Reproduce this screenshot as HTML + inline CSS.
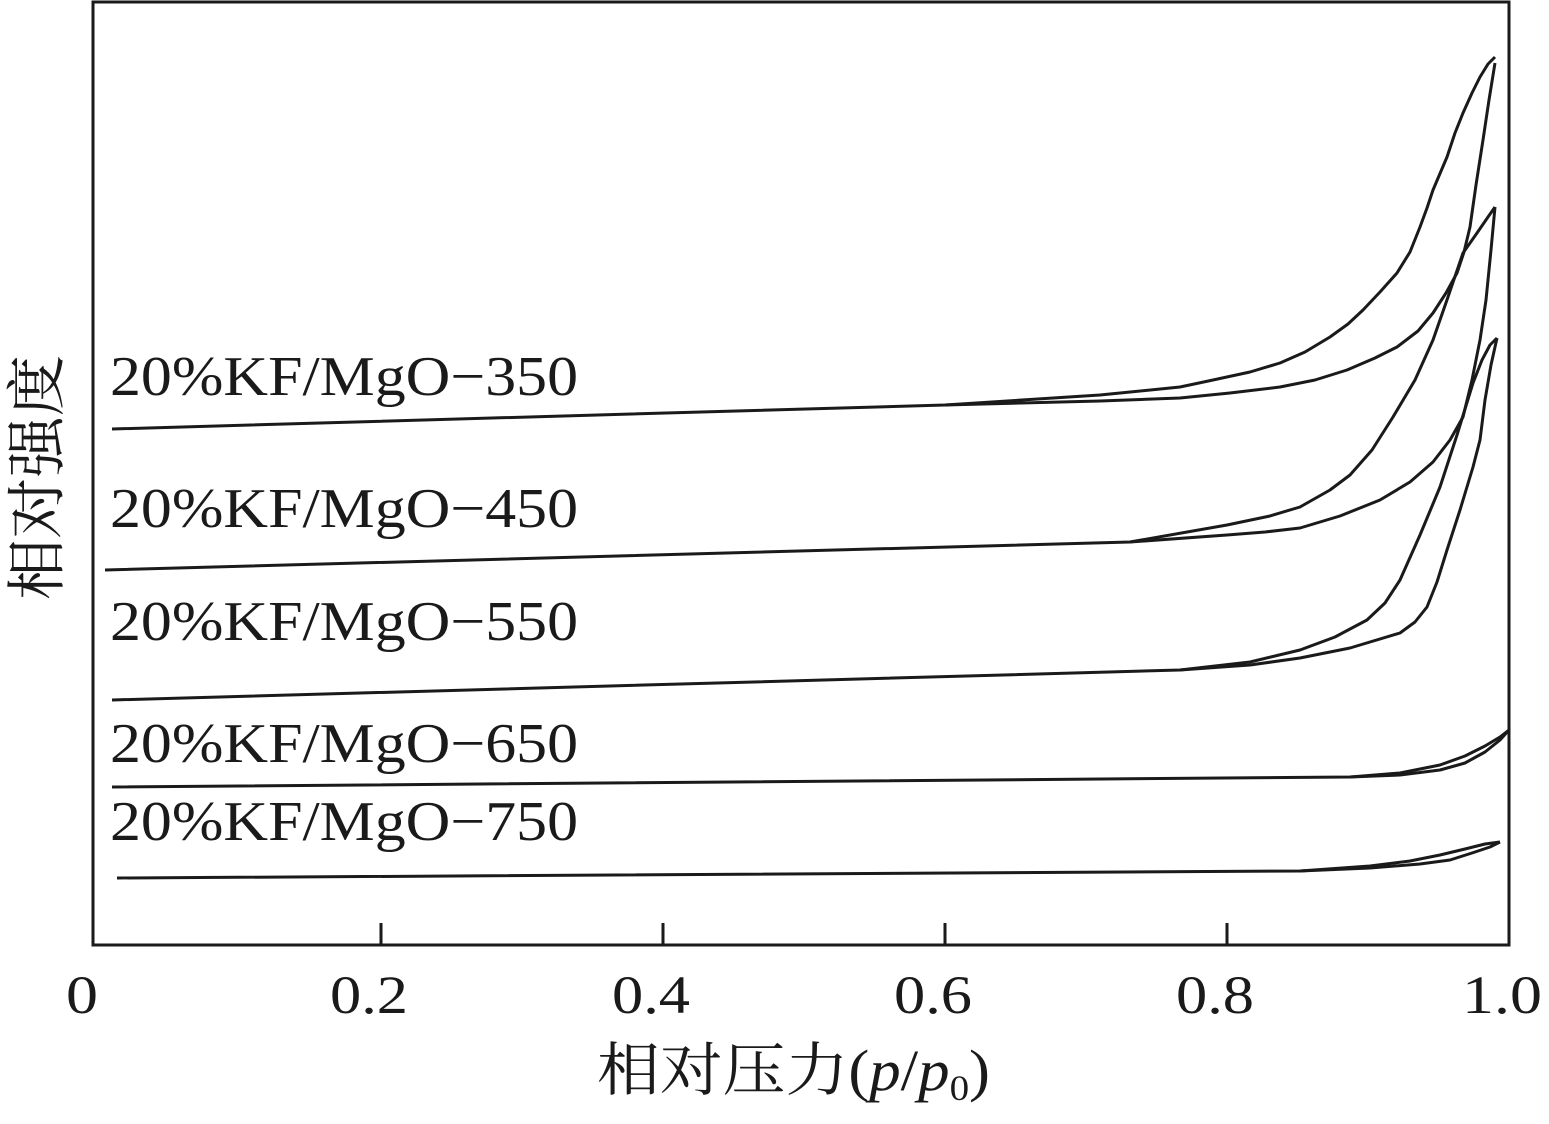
<!DOCTYPE html>
<html><head><meta charset="utf-8"><style>
html,body{margin:0;padding:0;background:#fff;}
svg{display:block;}
text{font-family:"Liberation Serif","Noto Serif CJK SC",serif;fill:#1a1a1a;}
</style></head><body>
<svg width="1549" height="1124" viewBox="0 0 1549 1124" xmlns="http://www.w3.org/2000/svg">
<rect x="93" y="2" width="1416" height="943" fill="none" stroke="#1a1a1a" stroke-width="3"/>
<g stroke="#1a1a1a" stroke-width="3">
<line x1="381" y1="945" x2="381" y2="923"/>
<line x1="663" y1="945" x2="663" y2="923"/>
<line x1="945" y1="945" x2="945" y2="923"/>
<line x1="1227" y1="945" x2="1227" y2="923"/>
</g>
<g font-size="54">
<text x="66" y="1013" textLength="32" lengthAdjust="spacingAndGlyphs">0</text>
<text x="330" y="1013" textLength="78" lengthAdjust="spacingAndGlyphs">0.2</text>
<text x="612" y="1013" textLength="78" lengthAdjust="spacingAndGlyphs">0.4</text>
<text x="894" y="1013" textLength="78" lengthAdjust="spacingAndGlyphs">0.6</text>
<text x="1176" y="1013" textLength="78" lengthAdjust="spacingAndGlyphs">0.8</text>
<text x="1462" y="1013" textLength="80" lengthAdjust="spacingAndGlyphs">1.0</text>
</g>
<text x="597" y="1090" font-size="58" textLength="393" lengthAdjust="spacingAndGlyphs">相对压力(<tspan font-style="italic">p</tspan>/<tspan font-style="italic">p</tspan><tspan font-size="36" dy="10">0</tspan><tspan dy="-10">)</tspan></text>
<text transform="translate(58,600) rotate(-90)" font-size="60" textLength="245" lengthAdjust="spacingAndGlyphs">相对强度</text>
<g font-size="56">
<text x="110" y="395" textLength="468" lengthAdjust="spacingAndGlyphs">20%KF/MgO−350</text>
<text x="110" y="527" textLength="468" lengthAdjust="spacingAndGlyphs">20%KF/MgO−450</text>
<text x="110" y="640" textLength="468" lengthAdjust="spacingAndGlyphs">20%KF/MgO−550</text>
<text x="110" y="762" textLength="468" lengthAdjust="spacingAndGlyphs">20%KF/MgO−650</text>
<text x="110" y="840" textLength="468" lengthAdjust="spacingAndGlyphs">20%KF/MgO−750</text>
</g>
<g fill="none" stroke="#1a1a1a" stroke-width="3" stroke-linejoin="round">
<polyline points="112,429 945,405 1100,395 1180,387 1213,380 1250,372 1280,363 1305,352 1330,337 1348,324 1363,310 1380,292 1397,273 1410,252 1420,227 1427,208 1433,190 1447,157 1455,133 1463,113 1472,93 1480,77 1488,64 1495,57"/>
<polyline points="945,405 1100,401 1180,398 1230,393 1280,387 1315,380 1347,370 1375,358 1397,347 1418,331 1433,313 1446,293 1457,273 1464,252 1470,227 1476,185 1483,140 1489,100 1495,63"/>
<polyline points="105,570 1130,542 1227,525 1270,516 1300,507 1330,490 1350,475 1372,450 1393,417 1415,380 1433,340 1448,297 1463,253 1477,233 1488,217 1495,207"/>
<polyline points="1130,542 1227,535 1265,532 1300,528 1340,516 1380,500 1410,482 1433,462 1450,440 1463,417 1472,380 1480,340 1486,300 1491,250 1495,207"/>
<polyline points="112,700 1180,670 1250,662 1300,650 1335,637 1367,620 1385,603 1400,580 1420,535 1440,487 1457,435 1473,383 1482,360 1490,345 1497,338"/>
<polyline points="1180,670 1250,665 1300,658 1350,648 1400,633 1415,622 1427,607 1437,582 1447,550 1460,510 1473,467 1480,440 1485,400 1491,365 1497,338"/>
<polyline points="112,787 1350,777 1400,775 1440,770 1465,763 1485,752 1500,740 1509,730"/>
<polyline points="1350,777 1400,773 1440,765 1465,756 1485,746 1500,737 1509,730"/>
<polyline points="117,878 1300,871 1370,868 1420,864 1450,860 1472,853 1490,847 1500,842"/>
<polyline points="1300,871 1370,866 1410,861 1440,855 1465,849 1485,844 1500,842"/>
</g>
</svg>
</body></html>
